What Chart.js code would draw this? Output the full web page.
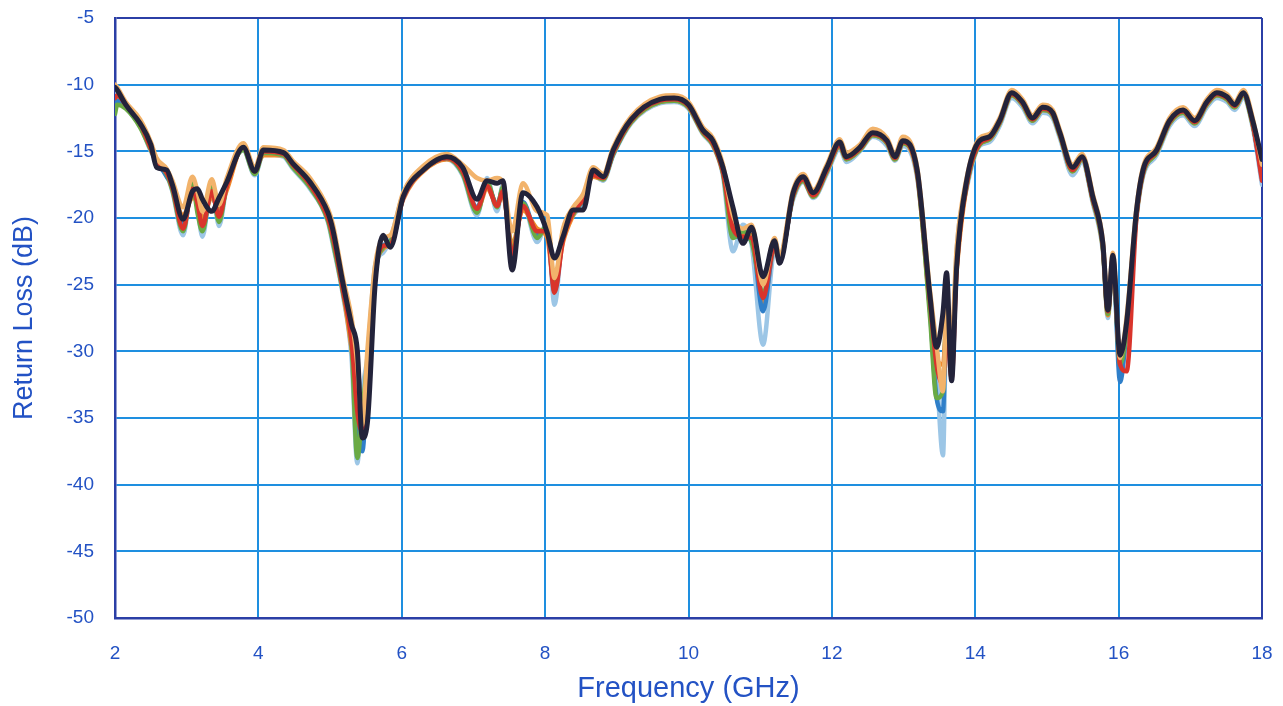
<!DOCTYPE html>
<html>
<head>
<meta charset="utf-8">
<script src="https://cdn.jsdelivr.net/npm/chart.js@4.4.1/dist/chart.umd.min.js"></script>
<style>
html,body{margin:0;padding:0;background:#fff;}
#wrap{width:1283px;height:706px;position:relative;}
</style>
</head>
<body>
<div id="wrap"><canvas id="c"></canvas></div>
<script>
// Frequency grid (GHz)
const freq = [2.0,2.03,2.15,2.35,2.5,2.58,2.72,2.8,2.95,3.08,3.15,3.22,3.35,3.45,3.56,3.79,3.95,4.07,4.35,4.48,
4.72,4.97,5.04,5.18,5.3,5.38,5.45,5.52,5.63,5.74,5.84,6.02,6.3,6.63,6.85,7.05,7.19,7.33,7.41,7.54,
7.69,7.89,8.03,8.13,8.25,8.39,8.53,8.67,8.81,8.95,9.2,9.6,9.8,10.0,10.2,10.34,10.48,10.62,10.76,10.88,
11.04,11.2,11.27,11.46,11.6,11.74,11.93,12.11,12.2,12.39,12.57,12.77,12.88,12.99,13.19,13.37,13.46,13.55,13.6,13.67,
13.74,13.88,14.06,14.2,14.34,14.51,14.66,14.8,14.94,15.08,15.18,15.36,15.49,15.64,15.78,15.85,15.92,16.02,16.11,16.25,
16.34,16.53,16.71,16.9,17.06,17.23,17.37,17.51,17.62,17.74,17.87,18.0];

// Dark reference trace (dB)
const traceBlack = [-10.2,-10.4,-11.5,-12.9,-14.5,-16.2,-16.4,-17.5,-20.1,-18.0,-17.8,-18.6,-19.5,-18.5,-17.3,-14.7,-16.5,-14.9,-15.1,-15.9,
-17.3,-19.6,-20.9,-24.9,-28.0,-29.9,-36.5,-35.4,-24.9,-21.3,-22.2,-18.4,-16.4,-15.4,-16.2,-18.6,-17.2,-17.4,-17.2,-23.9,
-18.1,-19.2,-21.1,-23.0,-21.4,-19.4,-19.4,-16.4,-16.9,-14.9,-12.6,-11.1,-11.0,-11.5,-13.4,-14.2,-16.2,-19.2,-21.9,-20.7,
-24.4,-21.7,-23.4,-18.1,-16.9,-18.1,-16.2,-14.3,-15.4,-14.7,-13.6,-14.2,-15.4,-14.2,-16.4,-25.9,-29.7,-27.1,-24.1,-32.2,
-23.7,-17.2,-14.2,-13.9,-12.7,-10.6,-11.3,-12.5,-11.7,-12.1,-13.6,-16.2,-15.4,-18.4,-21.9,-26.9,-22.8,-30.3,-27.9,-19.4,
-16.4,-14.9,-12.7,-11.9,-12.7,-11.3,-10.6,-10.9,-11.5,-10.6,-12.7,-15.6];

const traceA = [-10.6,-11.0,-11.7,-13.1,-15.0,-15.8,-16.8,-18.0,-21.3,-17.2,-19.2,-21.4,-17.3,-20.6,-17.6,-14.9,-16.8,-15.2,-15.4,-16.3,
-17.8,-20.3,-22.0,-25.8,-30.5,-38.4,-33.0,-30.5,-23.5,-22.6,-21.6,-18.2,-16.2,-15.6,-16.8,-19.8,-17.0,-19.5,-17.5,-22.5,
-19.0,-21.8,-20.3,-26.5,-21.0,-19.8,-18.8,-16.8,-17.2,-15.3,-12.9,-11.4,-11.3,-11.8,-13.7,-14.6,-16.8,-22.5,-20.5,-22.0,
-29.5,-22.5,-22.8,-18.6,-17.3,-18.5,-16.7,-14.8,-15.8,-15.0,-13.9,-14.6,-15.7,-14.6,-17.0,-26.5,-31.5,-37.8,-27.5,-31.0,
-22.5,-17.8,-14.6,-14.3,-13.1,-11.0,-11.7,-12.9,-12.1,-12.5,-14.0,-16.8,-15.8,-18.9,-22.5,-27.5,-23.5,-31.5,-29.0,-20.0,
-16.9,-15.3,-13.1,-12.3,-13.1,-11.7,-11.0,-11.3,-11.9,-11.0,-13.2,-17.5];

const traceB = [-11.3,-10.9,-11.4,-12.8,-14.8,-15.9,-16.6,-17.8,-19.8,-18.5,-18.6,-20.2,-18.4,-19.4,-17.9,-14.6,-16.3,-15.3,-15.3,-16.1,
-17.6,-20.0,-21.5,-25.5,-29.8,-33.5,-37.0,-31.5,-24.0,-22.3,-21.9,-18.6,-16.5,-15.6,-16.5,-19.4,-17.8,-18.9,-18.3,-22.0,
-19.4,-20.8,-21.5,-25.0,-21.8,-19.8,-18.5,-16.9,-17.1,-15.1,-12.8,-11.3,-11.2,-11.7,-13.6,-14.5,-16.6,-20.5,-21.2,-21.3,
-26.5,-22.3,-23.0,-18.4,-17.2,-18.4,-16.5,-14.6,-15.6,-14.9,-13.8,-14.4,-15.6,-14.4,-16.8,-26.8,-30.5,-31.0,-28.5,-30.0,
-24.0,-17.6,-14.5,-14.1,-12.9,-10.8,-11.5,-12.7,-11.9,-12.3,-13.8,-16.5,-15.6,-18.7,-22.3,-27.3,-23.2,-30.8,-28.5,-19.8,
-16.7,-15.1,-12.9,-12.1,-12.9,-11.5,-10.8,-11.1,-11.7,-10.8,-13.0,-16.8];

const traceC = [-11.8,-11.2,-11.6,-13.0,-14.7,-15.6,-16.9,-17.6,-20.6,-17.6,-19.0,-20.8,-17.8,-20.1,-17.4,-14.8,-16.6,-15.0,-15.2,-16.0,
-17.5,-19.9,-21.3,-25.3,-29.0,-35.5,-37.5,-32.0,-24.4,-22.0,-22.0,-18.5,-16.4,-15.5,-16.6,-19.2,-17.5,-19.0,-17.9,-22.8,
-18.8,-21.2,-20.8,-25.5,-21.3,-19.6,-18.7,-16.7,-17.0,-15.2,-12.7,-11.2,-11.1,-11.6,-13.5,-14.4,-16.5,-21.0,-21.5,-21.6,
-27.0,-22.0,-23.2,-18.3,-17.1,-18.3,-16.4,-14.5,-15.5,-14.8,-13.7,-14.3,-15.5,-14.3,-16.6,-27.0,-33.5,-34.5,-26.5,-31.0,
-23.0,-17.5,-14.4,-14.0,-12.8,-10.7,-11.4,-12.6,-11.8,-12.2,-13.7,-16.4,-15.5,-18.6,-22.1,-27.0,-23.0,-32.3,-28.3,-19.6,
-16.6,-15.0,-12.8,-12.0,-12.8,-11.4,-10.7,-11.0,-11.6,-10.7,-12.9,-17.0];

const traceD = [-12.2,-11.5,-11.8,-13.2,-14.9,-15.7,-16.7,-17.9,-21.0,-17.4,-19.6,-21.0,-17.6,-20.3,-17.5,-14.9,-16.7,-15.1,-15.3,-16.2,
-17.7,-20.2,-21.8,-25.6,-29.5,-38.0,-34.5,-30.8,-24.0,-22.2,-21.8,-18.3,-16.3,-15.5,-16.7,-19.6,-17.3,-19.2,-17.7,-22.6,
-18.9,-21.5,-20.5,-25.0,-21.2,-19.7,-18.6,-16.7,-17.1,-15.2,-12.8,-11.3,-11.2,-11.7,-13.6,-14.5,-16.6,-21.5,-21.0,-21.8,
-25.5,-22.2,-23.0,-18.4,-17.2,-18.4,-16.5,-14.6,-15.6,-14.9,-13.8,-14.4,-15.6,-14.4,-16.7,-27.5,-33.5,-33.0,-27.0,-30.5,
-23.2,-17.6,-14.5,-14.1,-12.9,-10.8,-11.5,-12.7,-11.9,-12.3,-13.8,-16.5,-15.6,-18.7,-22.2,-27.2,-23.1,-31.0,-28.4,-19.7,
-16.7,-15.1,-12.9,-12.1,-12.9,-11.5,-10.8,-11.1,-11.7,-10.8,-13.0,-16.5];

const traceE = [-11.0,-10.8,-11.5,-12.9,-14.8,-15.8,-16.6,-17.7,-20.8,-17.8,-18.9,-20.6,-18.0,-19.9,-17.6,-14.7,-16.5,-15.0,-15.2,-16.0,
-17.5,-20.0,-21.4,-25.4,-29.2,-34.5,-36.0,-33.5,-24.3,-22.1,-22.0,-18.5,-16.4,-15.5,-16.5,-19.3,-17.6,-19.1,-18.0,-22.7,
-19.1,-21.0,-21.0,-25.6,-21.6,-19.6,-18.6,-16.8,-17.0,-15.1,-12.7,-11.2,-11.1,-11.6,-13.5,-14.4,-16.5,-20.8,-21.4,-21.5,
-26.0,-22.1,-23.1,-18.3,-17.1,-18.3,-16.4,-14.5,-15.5,-14.8,-13.7,-14.3,-15.5,-14.3,-16.6,-26.3,-31.0,-32.5,-28.0,-32.0,
-23.8,-17.5,-14.4,-14.0,-12.8,-10.7,-11.4,-12.6,-11.8,-12.2,-13.7,-16.4,-15.5,-18.6,-22.0,-27.0,-23.0,-31.0,-31.5,-19.8,
-16.6,-15.0,-12.8,-12.0,-12.8,-11.4,-10.7,-11.0,-11.6,-10.7,-12.9,-17.2];

const traceF = [-10.0,-10.2,-11.3,-12.6,-14.3,-15.5,-16.3,-17.2,-19.2,-16.9,-18.0,-19.5,-17.1,-19.0,-17.0,-14.4,-16.2,-14.7,-14.9,-15.7,
-17.0,-19.3,-20.5,-24.5,-27.5,-31.0,-35.5,-30.0,-23.5,-21.5,-21.3,-18.1,-16.1,-15.2,-16.0,-17.0,-17.2,-17.0,-17.3,-21.0,
-17.4,-19.5,-19.8,-24.5,-20.8,-19.2,-18.2,-16.2,-16.7,-14.7,-12.4,-10.9,-10.8,-11.3,-13.2,-14.0,-16.0,-19.8,-20.8,-20.5,
-25.0,-21.5,-22.8,-17.9,-16.7,-17.9,-16.0,-14.1,-15.1,-14.5,-13.3,-14.0,-15.2,-13.9,-16.2,-25.5,-29.5,-33.0,-26.0,-29.0,
-22.3,-17.0,-14.0,-13.7,-12.5,-10.4,-11.1,-12.3,-11.5,-11.9,-13.4,-16.0,-15.2,-18.2,-21.7,-26.5,-22.6,-30.5,-27.5,-19.2,
-16.2,-14.7,-12.5,-11.7,-12.5,-11.1,-10.4,-10.7,-11.3,-10.4,-12.5,-16.0];

const xTicks = [2,4,6,8,10,12,14,16,18];
const yTicks = [-5,-10,-15,-20,-25,-30,-35,-40,-45,-50];

const seriesList = [
  {name:'Trace K', values:traceBlack, color:'#23233a', width:5},
  {name:'Trace F', values:traceF, color:'#f2b36b', width:4.5},
  {name:'Trace E', values:traceE, color:'#d9342b', width:4.5},
  {name:'Trace D', values:traceD, color:'#6aaa45', width:4.5},
  {name:'Trace C', values:traceC, color:'#2f7fc9', width:4.5},
  {name:'Trace B', values:traceB, color:'#f08a2c', width:4.5},
  {name:'Trace A', values:traceA, color:'#9cc6e6', width:4.5}
];

const gridBlue = '#1e8fe0';
const frameBlue = '#2b3fa6';
const textBlue = '#2352c4';
const fontFam = 'Liberation Sans, Arial, sans-serif';

const datasets = seriesList.map(s => ({
  label: s.name,
  data: freq.map((f,i) => ({x:f, y:s.values[i]})),
  borderColor: s.color,
  backgroundColor: s.color,
  borderWidth: s.width,
  pointRadius: 0,
  fill: false,
  cubicInterpolationMode: 'monotone',
  borderJoinStyle: 'round',
  borderCapStyle: 'round'
}));

new Chart(document.getElementById('c'), {
  type: 'line',
  data: { datasets },
  options: {
    responsive: true,
    maintainAspectRatio: false,
    animation: false,
    layout: { padding: { top: 18, right: 21, left: 0, bottom: 0 } },
    plugins: { legend: { display: false }, tooltip: { enabled: false } },
    scales: {
      x: {
        type: 'linear',
        min: 2, max: 18,
        afterBuildTicks: sc => { sc.ticks = xTicks.map(v => ({value:v})); },
        afterFit: sc => { sc.height = 88; sc.paddingLeft = 0; sc.paddingRight = 0; },
        grid: {
          color: ctx => (ctx.tick && ctx.tick.value === 18) ? frameBlue : gridBlue,
          lineWidth: 2,
          drawTicks: false
        },
        border: { color: frameBlue, width: 2.5 },
        ticks: { color: textBlue, font: { family: fontFam, size: 19 }, padding: 24, maxRotation: 0 },
        title: { display: true, text: 'Frequency (GHz)', color: textBlue, font: { family: fontFam, size: 29 }, padding: { top: 0, bottom: 0 } }
      },
      y: {
        type: 'linear',
        min: -50, max: -5,
        afterBuildTicks: sc => { sc.ticks = yTicks.map(v => ({value:v})); },
        afterFit: sc => { sc.width = 115; sc.paddingTop = 0; sc.paddingBottom = 0; },
        grid: {
          color: ctx => (ctx.tick && ctx.tick.value === -5) ? frameBlue : gridBlue,
          lineWidth: 2,
          drawTicks: false
        },
        border: { color: frameBlue, width: 2.5 },
        ticks: { color: textBlue, font: { family: fontFam, size: 19 }, padding: 21 },
        title: { display: true, text: 'Return Loss (dB)', color: textBlue, font: { family: fontFam, size: 27 }, padding: { top: 8, bottom: 0 } }
      }
    }
  }
});
</script>
</body>
</html>
